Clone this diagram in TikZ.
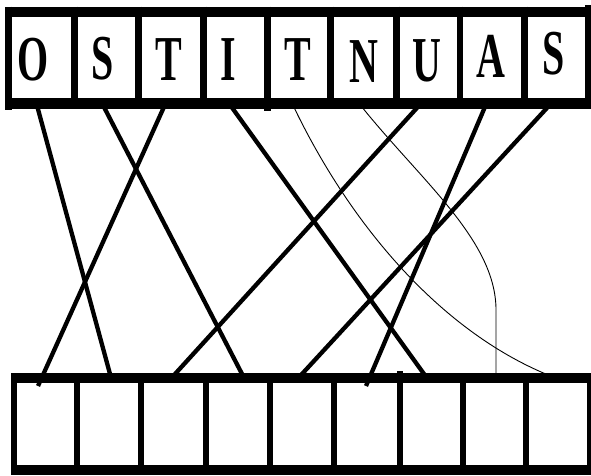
\documentclass[tikz,border=0pt]{standalone}
\usepackage{fontspec}
\setmainfont{Liberation Serif}
\begin{document}
\begin{tikzpicture}[x=1pt,y=-1pt,
  hbar/.style={line width=10pt},
  vbar/.style={line width=6.5pt},
  thickline/.style={line width=4.3pt},
  thinline/.style={line width=0.9pt},
  letter/.style={anchor=base,inner sep=0pt,font=\bfseries\fontsize{40}{40}\selectfont}]
\useasboundingbox[fill=white] (0,0) rectangle (591,475);
% endpoints of connectors
\coordinate (t1) at (36.6,104);  \coordinate (b1) at (111.1,378);
\coordinate (t2) at (102.4,104); \coordinate (b2) at (244.1,378);
\coordinate (t3) at (165.3,104); \coordinate (b3) at (38,386);
\coordinate (t4) at (229.4,104); \coordinate (b4) at (426.9,378);
\coordinate (t5) at (292.4,104); \coordinate (b5) at (547,374.5);
\coordinate (t6) at (359.5,104); \coordinate (b6) at (496,378);
\coordinate (t7) at (420.5,104); \coordinate (b7) at (171.4,378);
\coordinate (t8) at (486.2,104); \coordinate (b8) at (366,386);
\coordinate (t9) at (550.6,104); \coordinate (b9) at (298.3,378);
\coordinate (n6) at (496,310);
% connectors
\draw[thickline] (t1) -- (b1);
\draw[thickline] (t2) -- (b2);
\draw[thickline] (t3) -- (b3);
\draw[thickline] (t4) -- (b4);
\draw[thinline] (t5) .. controls (350,225) and (440,330) .. (b5);
\draw[thinline] (t6) .. controls (420,180) and (496,240) .. (n6) -- (b6);
\draw[thickline] (t7) -- (b7);
\draw[thickline] (t8) -- (b8);
\draw[thickline] (t9) -- (b9);
% top box
\draw[hbar] (5,11.7) -- (591,11.7);
\draw[line width=11pt] (5,103.8) -- (591,103.8);
\draw[line width=7pt] (8.5,6.7) -- (8.5,109.8);
\foreach \x in {74.5,138.5,203.5,330.5,396.5,460,524.5}
  \draw[vbar] (\x,6.7) -- (\x,109.3);
\draw[vbar] (267.5,6.7) -- (267.5,111);
\draw[line width=6pt] (588,5) -- (588,109.3);
% bottom box
\draw[hbar] (11.5,378) -- (594,378);
\draw[hbar] (11.5,470) -- (594,470);
\draw[line width=5.5pt] (14.2,373) -- (14.2,475);
\foreach \x in {77,140.5,206,270,333.5,462.5,526,590}
  \draw[line width=6pt] (\x,373) -- (\x,475);
\draw[line width=6pt] (399.5,371) -- (399.5,475);
% letters
\node[letter] (L1) at (33,80)    {\scalebox{1}[1.6]{O}};
\node[letter] (L2) at (102.5,79) {\scalebox{1}[1.6]{S}};
\node[letter] (L3) at (168.5,80) {\scalebox{1}[1.6]{T}};
\node[letter] (L4) at (228,80)   {\scalebox{1}[1.6]{I}};
\node[letter] (L5) at (297.5,80) {\scalebox{1}[1.6]{T}};
\node[letter] (L6) at (363.5,82) {\scalebox{1}[1.6]{N}};
\node[letter] (L7) at (426.5,81.5) {\scalebox{1}[1.6]{U}};
\node[letter] (L8) at (491,77)   {\scalebox{1}[1.6]{A}};
\node[letter] (L9) at (553.5,74) {\scalebox{1}[1.6]{S}};
\end{tikzpicture}
\end{document}
